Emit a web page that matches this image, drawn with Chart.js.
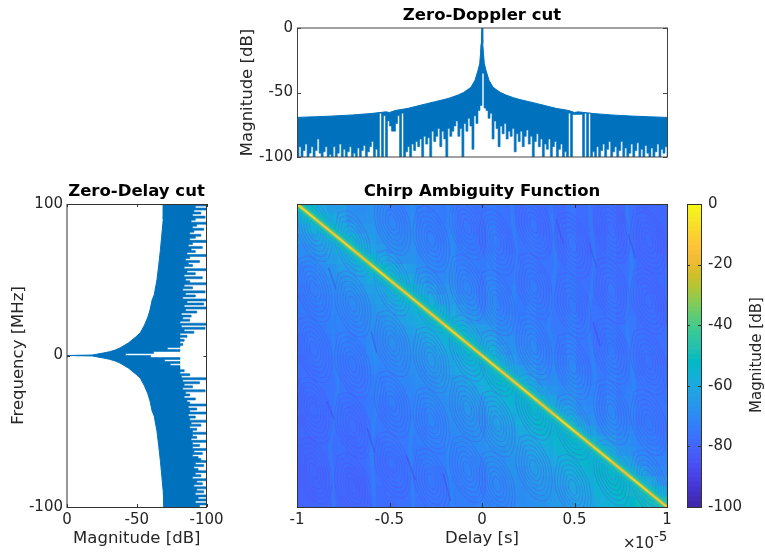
<!DOCTYPE html>
<html>
<head>
<meta charset="utf-8">
<title>Chirp Ambiguity Function</title>
<script src="https://cdn.jsdelivr.net/npm/chart.js@4"></script>
<style>
  html, body { margin: 0; background: #fff; }
  canvas { position: absolute; }
</style>
</head>
<body>
<canvas id="dopplerCut" style="left:232px;top:4px" width="500" height="166"></canvas>
<canvas id="delayCut" style="left:0;top:180px" width="273" height="374"></canvas>
<canvas id="heat" style="left:232px;top:180px" width="500" height="374"></canvas>
<canvas id="bar" style="left:687px;top:180px" width="78" height="374"></canvas>
<script>
// Zero-Doppler cut: upper edge (delay in 1e-5 s, dB)
const dopplerTopX = [-1,-0.9,-0.8,-0.7,-0.6,-0.52,-0.5,-0.47,-0.4,-0.35,-0.3,-0.25,-0.2,-0.17,-0.13,-0.1,-0.08,-0.06,-0.038,-0.022,-0.0125,-0.008,-0.005,-0.003,0,
  0.003,0.005,0.008,0.0125,0.022,0.038,0.06,0.08,0.1,0.13,0.17,0.2,0.25,0.3,0.35,0.4,0.47,0.5,0.52,0.6,0.7,0.8,0.9,1];
const dopplerTop = [-69.3,-68.8,-68.2,-67.4,-66.3,-65,-65.5,-64,-62.3,-60.5,-58.7,-57,-55.3,-54,-52,-50,-48,-46,-40.6,-33,-27.6,-20,-12,-5,0,
  -5,-12,-20,-27.6,-33,-40.6,-46,-48,-50,-52,-54,-55.3,-57,-58.7,-60.5,-62.3,-64,-65.5,-65,-66.3,-67.4,-68.2,-68.8,-69.3];
// lower edge, one value every 2 px of the axis
const dopplerLow = [
  -100,-92,-100,-95,-90,-100,-97,-92,-100,-95,
  -86,-97,-100,-96,-92,-100,-98,-100,-92,-100,
  -97,-90,-100,-94,-100,-96,-92,-100,-97,-100,
  -93,-100,-95,-91,-100,-96,-92,-88,-100,-94,
  -100,-66,-100,-68,-100,-72,-76,-80,-80,-74,
  -68,-100,-66,-100,-96,-92,-100,-90,-95,-88,
  -92,-86,-100,-84,-90,-85,-100,-80,-88,-84,
  -78,-92,-80,-86,-100,-78,-84,-80,-76,-72,
  -84,-78,-100,-74,-80,-70,-76,-94,-68,-74,
  -64,-60,-35,-62,-64,-70,-66,-86,-72,-78,
  -92,-76,-82,-74,-86,-80,-84,-78,-96,-82,
  -88,-80,-92,-84,-79,-90,-84,-100,-88,-82,
  -92,-86,-100,-90,-94,-86,-100,-92,-88,-100,
  -94,-90,-100,-96,-100,-66,-100,-67,-67,-67,
  -67,-67,-100,-66,-100,-66,-100,-96,-100,-92,
  -100,-95,-90,-100,-94,-88,-100,-96,-92,-100,
  -95,-88,-100,-93,-100,-97,-90,-100,-95,-89,
  -100,-94,-100,-91,-97,-100,-93,-100,-96,-90,
  -100,-94,-97,-92,-100];

// Zero-Delay cut: frequency in MHz, magnitude in dB
const delayEdgeFreq = [100,90,80,70,60,50,40,36.6,30,25.4,20,14.9,12,8.3,5,3.6,2.5,1.65,0.8,0.3,0.1,0,
  -0.1,-0.3,-0.8,-1.65,-2.5,-3.6,-5,-8.3,-12,-14.9,-20,-25.4,-30,-36.6,-40,-50,-60,-70,-80,-90,-100];
const delayEdge = [-69.5,-69,-68,-67,-65.8,-64.5,-62.5,-61,-59.5,-58,-55.5,-52.5,-49,-44,-38,-34.5,-30.5,-26,-21,-18,-6,0,
  -6,-18,-21,-26,-30.5,-34.5,-38,-44,-49,-52.5,-55.5,-58,-59.5,-61,-62.5,-64.5,-65.8,-67,-68,-69,-69.5];
const delayLow = [
  -94,-100,-92,-100,-91,-96,-90,-99,-92,-89,-100,-93,-90,-98,-91,-88,-96,-92,-88,-100,
  -90,-87,-97,-89,-92,-86,-100,-88,-85,-95,-87,-90,-84,-100,-86,-92,-84,-97,-85,-88,
  -100,-84,-90,-83,-99,-85,-92,-83,-100,-86,-98,-84,-100,-85,-93,-82,-89,-83,-88,-81,
  -100,-82,-99,-84,-91,-81,-86,-81,-84,-81,-83,-81,-72,-81,-62,-42,
  -60,-81,-70,-81,-74,-81,-81,-84,-81,-88,-82,-100,-83,-95,-84,-90,-83,-99,-85,-88,
  -84,-92,-86,-88,-100,-87,-93,-88,-100,-87,-92,-88,-100,-89,-96,-88,-93,-90,-100,-90,
  -93,-89,-100,-90,-95,-90,-100,-91,-97,-90,-94,-96,-100,-92,-98,-91,-94,-100,-92,-96,
  -90,-100,-93,-97,-91,-100,-93,-98,-92,-100,-94,-100,-92,-100,-95];

// Ambiguity surface in dB, 37 columns by 30 rows, top row first
const heatRows = [
  [-50,-50,-58,-62,-62,-66,-67,-66,-67,-70,-70,-69,-71,-72,-72,-71,-73,-73,-74,-72,-74,-75,-75,-74,-75,-76,-76,-74,-76,-76,-76,-75,-77,-75,-77,-77,-77],
  [-54,-52,-50,-57,-60,-65,-66,-65,-67,-69,-70,-68,-71,-71,-72,-70,-73,-73,-73,-72,-74,-74,-75,-74,-75,-75,-76,-74,-76,-76,-76,-75,-77,-75,-76,-77,-77],
  [-60,-56,-54,-50,-56,-61,-64,-64,-66,-68,-69,-67,-70,-71,-71,-70,-72,-73,-73,-71,-74,-74,-74,-73,-75,-75,-75,-74,-76,-76,-76,-75,-76,-75,-76,-76,-77],
  [-63,-62,-60,-56,-52,-54,-60,-62,-65,-67,-68,-67,-69,-70,-71,-69,-72,-72,-73,-71,-73,-74,-74,-73,-74,-75,-75,-73,-75,-76,-76,-74,-76,-75,-76,-76,-77],
  [-67,-65,-62,-60,-56,-52,-54,-60,-63,-66,-67,-66,-69,-70,-70,-69,-71,-72,-73,-71,-73,-74,-74,-73,-74,-75,-75,-73,-75,-76,-76,-74,-76,-75,-76,-76,-77],
  [-68,-67,-65,-62,-60,-57,-52,-52,-58,-62,-65,-65,-68,-69,-70,-68,-71,-71,-72,-70,-73,-73,-74,-73,-74,-74,-75,-73,-75,-75,-76,-74,-76,-74,-76,-76,-76],
  [-70,-69,-67,-65,-62,-61,-58,-53,-50,-56,-60,-62,-66,-68,-69,-67,-70,-71,-72,-70,-72,-73,-73,-72,-74,-74,-75,-73,-75,-75,-75,-74,-75,-74,-76,-76,-76],
  [-70,-70,-68,-66,-65,-63,-61,-58,-54,-51,-54,-58,-63,-66,-68,-66,-69,-70,-71,-69,-72,-73,-73,-72,-73,-74,-74,-72,-75,-75,-75,-74,-75,-74,-76,-76,-76],
  [-71,-71,-69,-68,-66,-65,-63,-61,-58,-55,-51,-52,-58,-62,-65,-64,-68,-69,-70,-68,-71,-72,-73,-71,-73,-74,-74,-72,-74,-75,-75,-73,-75,-74,-75,-76,-76],
  [-72,-71,-70,-69,-67,-67,-65,-63,-61,-58,-55,-52,-51,-57,-61,-62,-66,-68,-69,-67,-71,-71,-72,-71,-73,-73,-74,-72,-74,-75,-75,-73,-75,-74,-75,-75,-76],
  [-72,-72,-71,-70,-68,-68,-66,-65,-63,-61,-58,-55,-52,-50,-55,-59,-63,-66,-68,-66,-70,-71,-72,-70,-72,-73,-73,-72,-74,-74,-75,-73,-75,-74,-75,-75,-76],
  [-73,-72,-71,-71,-69,-69,-68,-66,-65,-63,-61,-58,-56,-53,-50,-54,-59,-63,-66,-65,-69,-70,-71,-70,-72,-73,-73,-71,-74,-74,-74,-73,-75,-73,-75,-75,-76],
  [-73,-73,-72,-71,-70,-70,-69,-67,-66,-65,-63,-61,-58,-56,-53,-50,-53,-58,-62,-63,-67,-69,-70,-69,-71,-72,-73,-71,-73,-74,-74,-72,-74,-73,-75,-75,-75],
  [-74,-73,-72,-72,-70,-71,-70,-68,-67,-66,-65,-63,-61,-58,-56,-52,-50,-53,-58,-60,-65,-67,-69,-68,-71,-71,-72,-70,-73,-73,-74,-72,-74,-73,-74,-75,-75],
  [-74,-74,-73,-72,-71,-71,-71,-68,-68,-67,-66,-64,-63,-61,-58,-55,-53,-51,-53,-56,-62,-65,-67,-67,-70,-71,-72,-70,-73,-73,-73,-72,-74,-73,-74,-74,-75],
  [-75,-74,-73,-73,-72,-72,-71,-69,-69,-68,-67,-66,-64,-63,-61,-58,-56,-53,-50,-52,-58,-62,-66,-66,-69,-70,-71,-69,-72,-73,-73,-71,-73,-72,-74,-74,-75],
  [-75,-75,-74,-73,-72,-73,-72,-70,-70,-69,-68,-67,-66,-64,-63,-60,-58,-56,-53,-51,-52,-58,-63,-64,-67,-69,-70,-68,-71,-72,-73,-71,-73,-72,-74,-74,-74],
  [-75,-75,-74,-74,-73,-73,-73,-71,-71,-70,-69,-68,-67,-66,-64,-62,-61,-58,-56,-53,-50,-52,-57,-61,-65,-67,-69,-67,-70,-71,-72,-70,-72,-72,-73,-74,-74],
  [-76,-75,-75,-74,-73,-74,-73,-71,-71,-70,-70,-69,-68,-67,-65,-64,-63,-61,-58,-55,-53,-50,-52,-57,-62,-65,-67,-66,-69,-70,-72,-70,-72,-71,-73,-73,-74],
  [-76,-76,-75,-74,-74,-74,-74,-72,-72,-71,-71,-70,-69,-67,-67,-65,-64,-62,-61,-58,-55,-53,-51,-52,-56,-61,-65,-64,-68,-69,-71,-69,-71,-71,-73,-73,-74],
  [-76,-76,-75,-75,-74,-75,-74,-72,-73,-72,-71,-70,-70,-68,-68,-66,-65,-64,-62,-60,-58,-55,-53,-51,-52,-55,-61,-62,-66,-68,-70,-68,-71,-70,-72,-73,-73],
  [-77,-76,-76,-75,-74,-75,-75,-73,-73,-72,-72,-71,-70,-69,-69,-67,-66,-65,-64,-62,-60,-57,-55,-53,-51,-50,-55,-59,-63,-66,-69,-67,-70,-70,-72,-72,-73],
  [-77,-76,-76,-75,-75,-75,-75,-73,-73,-73,-72,-71,-71,-70,-69,-68,-67,-66,-65,-63,-62,-60,-58,-55,-53,-51,-51,-54,-59,-63,-67,-66,-69,-69,-71,-72,-73],
  [-77,-77,-76,-76,-75,-76,-75,-74,-74,-73,-73,-72,-71,-70,-70,-69,-68,-67,-66,-64,-63,-62,-60,-58,-56,-53,-52,-50,-53,-57,-63,-63,-67,-68,-70,-71,-72],
  [-77,-77,-76,-76,-75,-76,-76,-74,-74,-74,-73,-72,-72,-71,-71,-69,-69,-68,-67,-65,-65,-63,-62,-60,-58,-56,-54,-52,-50,-52,-55,-60,-65,-66,-69,-70,-71],
  [-77,-77,-76,-76,-76,-76,-76,-74,-75,-74,-74,-73,-72,-71,-71,-70,-69,-69,-68,-66,-66,-65,-63,-62,-60,-58,-56,-54,-52,-50,-52,-54,-60,-63,-67,-69,-70],
  [-78,-77,-77,-76,-76,-77,-76,-75,-75,-75,-74,-73,-73,-72,-72,-70,-70,-69,-69,-67,-67,-65,-65,-63,-61,-60,-58,-56,-54,-52,-50,-50,-53,-58,-63,-66,-68],
  [-78,-77,-77,-76,-76,-77,-77,-75,-75,-75,-74,-74,-73,-72,-72,-71,-70,-70,-69,-68,-68,-66,-66,-64,-63,-62,-60,-58,-56,-54,-52,-51,-50,-50,-55,-60,-64],
  [-78,-78,-77,-77,-76,-77,-77,-75,-76,-75,-75,-74,-73,-73,-73,-71,-71,-70,-70,-68,-68,-67,-67,-65,-64,-63,-62,-60,-58,-56,-54,-52,-50,-48,-47,-50,-56],
  [-78,-78,-77,-77,-77,-77,-77,-76,-76,-76,-75,-74,-74,-73,-73,-72,-71,-71,-70,-69,-69,-68,-67,-66,-65,-64,-63,-61,-60,-58,-56,-54,-52,-50,-48,-46,-44]
];

// Bright ridge along the diagonal
const ridgeDelay = [-1,-0.9,-0.8,-0.7,-0.6,-0.5,-0.4,-0.3,-0.2,-0.1,0,0.1,0.2,0.3,0.4,0.5,0.6,0.7,0.8,0.9,1];
const ridgeFreq = [100,90,80,70,60,50,40,30,20,10,0,-10,-20,-30,-40,-50,-60,-70,-80,-90,-100];
const ridgeDb = [-10,-14,-12,-16,-11,-15,-13,-16,-12,-15,-11,-15,-12,-16,-10,-14,-12,-16,-11,-14,-9];

// Faint vertical streaks between the lobes; null breaks a streak
const lightDelay = [-0.82,-0.79,-0.81,-0.78,-0.82,-0.8,null,-0.6,-0.57,-0.6,-0.56,-0.6,-0.58,null,-0.38,-0.36,-0.39,-0.35,-0.39,-0.37,null,-0.18,-0.15,-0.18,-0.15,-0.19,-0.16,null,
  0.16,0.19,0.15,0.19,0.16,0.19,null,0.37,0.4,0.36,0.4,0.37,0.39,null,0.58,0.61,0.57,0.62,0.58,0.6,null,0.78,0.81,0.78,0.82,0.79,0.81];
const lightFreq = [100,60,20,-20,-60,-100,null,100,60,20,-20,-60,-100,null,100,60,20,-20,-60,-100,null,100,60,20,-20,-60,-100,null,
  100,60,20,-20,-60,-100,null,100,60,20,-20,-60,-100,null,100,60,20,-20,-60,-100,null,100,60,20,-20,-60,-100];
const darkDelay = [-0.84,-0.8,null,-0.62,-0.58,null,-0.41,-0.36,null,-0.21,-0.17,null,0.58,0.62,null,0.79,0.83,null,0.6,0.64,null,0.4,0.44,null,-0.83,-0.79,null,-0.6,-0.57];
const darkFreq = [-30,-42,null,-48,-64,null,-66,-82,null,-78,-96,null,74,58,null,80,64,null,22,6,null,90,74,null,58,44,null,16,2];

const lobeDelay = [-0.91,-0.7,-0.485,-0.275,-0.08,0.08,0.28,0.49,0.7,0.9];
const lobeFreq = [80,40,0,-40,-80];
const lobeShift = [4,-6,8,-3,5,-5,6,-7,3,-4];
const lobeRings = [1.12,0.95,0.78,0.61,0.44,0.27];
const lobeOutlineDelay = [-0.07,-0.02,0.04,0.085,0.07,0.02,-0.04,-0.085,-0.07];
const lobeOutlineFreq = [18,19,12,-2,-18,-19,-12,2,18];

// Axis ticks
const magnitudeTicks = [0, -50, -100];
const frequencyTicks = [100, 0, -100];
const delayTicks = [-1, -0.5, 0, 0.5, 1];
const colorbarTicks = [0, -20, -40, -60, -80, -100];

const blue = '#0072BD';
const inkColor = '#262626';
const surfaceOffset = -2.5; // the cells read a touch too cyan against the colorbar

// parula, every third entry of the 64 level map
const parula = [[62,38,168],[67,50,203],[71,65,229],[72,82,244],[69,99,253],[56,117,254],[46,135,247],[39,150,235],
  [32,165,227],[18,177,214],[2,186,195],[36,193,174],[55,200,151],[87,204,122],[129,204,89],[171,199,57],
  [209,191,39],[240,186,54],[254,195,56],[250,214,45],[245,233,36],[249,251,21]];

function parulaColor(db, alpha) {
  const t = Math.min(1, Math.max(0, (db + 100) / 100)) * (parula.length - 1);
  const i = Math.min(parula.length - 2, Math.floor(t));
  const c = parula[i].map((v, k) => Math.round(v + (parula[i + 1][k] - v) * (t - i)));
  return `rgba(${c[0]},${c[1]},${c[2]},${alpha === undefined ? 1 : alpha})`;
}

function zipPoints(xs, ys) {
  return xs.map((x, i) => ({ x: x, y: ys[i] }));
}

// MATLAB style box: frame plus inward ticks on both sides
const boxFrame = {
  id: 'boxFrame',
  afterDatasetsDraw(chart, args, opts) {
    const { ctx, chartArea: a } = chart;
    const ox = opts.ox || 0, oy = opts.oy || 0, len = opts.len || 4;
    ctx.save();
    ctx.strokeStyle = opts.color || inkColor;
    ctx.lineWidth = 1;
    ctx.strokeRect(a.left + ox, a.top + oy, a.width, a.height);
    (opts.axes || []).forEach(id => {
      const s = chart.scales[id];
      s.ticks.forEach(t => {
        const p = Math.round(s.getPixelForValue(t.value)) + 0.5;
        ctx.beginPath();
        if (s.isHorizontal()) {
          ctx.moveTo(p, a.top); ctx.lineTo(p, a.top + len);
          ctx.moveTo(p, a.bottom); ctx.lineTo(p, a.bottom - len);
        } else {
          ctx.moveTo(a.left, p); ctx.lineTo(a.left + len, p);
          ctx.moveTo(a.right, p); ctx.lineTo(a.right - len, p);
        }
        ctx.stroke();
      });
    });
    ctx.restore();
  }
};

function chartTitle(text) {
  return {
    display: true, text: text, color: '#000',
    font: { size: 16.5, weight: 'bold' },
    padding: { top: 2, bottom: 2.2 }
  };
}

function linearAxis(min, max, tickList, extra, pad) {
  return Object.assign({
    type: 'linear', min: min, max: max,
    afterBuildTicks(s) { s.ticks = tickList.map(v => ({ value: v })); },
    grid: { display: false, drawTicks: false },
    border: { display: false },
    ticks: { color: inkColor, font: { size: 15 }, padding: pad || 4, autoSkip: false, maxRotation: 0, callback: v => String(v) }
  }, extra);
}

// empty axis that only holds room so the title centres on the plot
function spacerAxis(width) {
  return {
    position: 'right', ticks: { display: false }, grid: { display: false, drawTicks: false }, border: { display: false },
    afterFit(s) { s.width = width; }
  };
}

function axisTitle(text, pad) {
  return { display: true, text: text, color: inkColor, font: { size: 16.5 }, padding: pad };
}

const sharedOptions = {
  responsive: false,
  animation: false,
  events: [],
  plugins: { legend: { display: false }, tooltip: { enabled: false } }
};

Chart.defaults.font.family = "'DejaVu Sans'";

// top panel
new Chart(document.getElementById('dopplerCut'), {
  type: 'scatter',
  plugins: [boxFrame],
  data: {
    datasets: [
      { data: zipPoints(dopplerTopX, dopplerTop), showLine: true, pointRadius: 0, borderColor: blue, borderWidth: 1, backgroundColor: blue, fill: '+1' },
      { data: dopplerLow.map((v, i) => ({ x: -1 + i * 2 / (dopplerLow.length - 1), y: v })), showLine: true, stepped: true, pointRadius: 0, borderColor: blue, borderWidth: 0.6, fill: false }
    ]
  },
  options: Object.assign({}, sharedOptions, {
    plugins: Object.assign({}, sharedOptions.plugins, {
      title: chartTitle('Zero-Doppler cut'),
      boxFrame: { color: '#444', ox: 0.5, axes: ['y'], len: 4 }
    }),
    scales: {
      x: { type: 'linear', min: -1, max: 1, ticks: { display: false }, grid: { display: false, drawTicks: false }, border: { display: false },
        afterFit(s) { s.height = 13; } },
      y: linearAxis(-100, 0, magnitudeTicks, { title: axisTitle('Magnitude [dB]', { top: 6 }), afterFit(s) { s.width = 65; } }),
      y2: spacerAxis(65)
    }
  })
});

// left panel
new Chart(document.getElementById('delayCut'), {
  type: 'line',
  plugins: [boxFrame],
  data: {
    datasets: [
      { data: zipPoints(delayEdge, delayEdgeFreq), pointRadius: 0, borderColor: blue, borderWidth: 1, backgroundColor: blue, fill: '+1' },
      { data: delayLow.map((v, i) => ({ x: v, y: 100 - i * 200 / (delayLow.length - 1) })), stepped: true, pointRadius: 0, borderColor: blue, borderWidth: 0.6, fill: false }
    ]
  },
  options: Object.assign({}, sharedOptions, {
    indexAxis: 'y',
    plugins: Object.assign({}, sharedOptions.plugins, {
      title: chartTitle('Zero-Delay cut'),
      boxFrame: { color: '#333', axes: ['x', 'y'], len: 3, oy: 0.5 }
    }),
    scales: {
      x: linearAxis(-100, 0, magnitudeTicks, { reverse: true, title: axisTitle('Magnitude [dB]', { bottom: 5 }), afterFit(s) { s.height = 47; } }),
      y: linearAxis(-100, 100, frequencyTicks, { title: axisTitle('Frequency [MHz]', { top: 8.5 }), afterFit(s) { s.width = 67; } }),
      y2: spacerAxis(66.5)
    }
  })
});

// heat map
const cellPoints = [];
heatRows.forEach((row, r) => row.forEach((v, c) => {
  cellPoints.push({ x: -1 + (c + 0.5) * 2 / row.length, y: 100 - (r + 0.5) * 200 / heatRows.length, v: v });
}));

const lobePoints = [];
lobeDelay.forEach((d, c) => lobeFreq.forEach(f => lobeRings.forEach(k => {
  lobeOutlineDelay.forEach((o, i) => {
    lobePoints.push({ x: d + o * k, y: f + lobeShift[c] + lobeOutlineFreq[i] * k });
  });
  lobePoints.push({ x: null, y: null });
})));

const ridgePoints = zipPoints(ridgeDelay, ridgeFreq);
function ridgeBand(width, db, alpha) {
  return { data: ridgePoints, showLine: true, pointRadius: 0, borderWidth: width, borderColor: parulaColor(db, alpha), clip: 0, borderCapStyle: 'butt' };
}

new Chart(document.getElementById('heat'), {
  type: 'scatter',
  plugins: [boxFrame, {
    id: 'exponent',
    afterDraw(chart) {
      const ctx = chart.ctx, a = chart.chartArea;
      ctx.save();
      ctx.fillStyle = inkColor;
      ctx.textBaseline = 'alphabetic';
      ctx.font = "15px 'DejaVu Sans'";
      ctx.fillText('×', a.left + 326, a.bottom + 41);
      ctx.fillText('10', a.left + 338, a.bottom + 41);
      ctx.font = "13.5px 'DejaVu Sans'";
      ctx.fillText('-5', a.left + 357, a.bottom + 34);
      ctx.restore();
    }
  }],
  data: {
    // first dataset is painted last
    datasets: [
      {
        data: ridgePoints, showLine: true, pointRadius: 0, borderWidth: 1.8, clip: 0, borderColor: '#e8c030',
        segment: { borderColor: c => parulaColor(ridgeDb[c.p0DataIndex]) }
      },
      ridgeBand(3.5, -30, 0.75),
      ridgeBand(7, -42, 0.6),
      ridgeBand(14, -50, 0.45),
      ridgeBand(28, -58, 0.35),
      { data: zipPoints(darkDelay, darkFreq), showLine: true, pointRadius: 0, borderWidth: 1.5, borderColor: parulaColor(-90, 0.45), spanGaps: false },
      { data: lobePoints, showLine: true, pointRadius: 0, borderWidth: 1, tension: 0.4, borderColor: 'rgba(90,70,240,0.33)', spanGaps: false },
      { data: zipPoints(lightDelay, lightFreq), showLine: true, pointRadius: 0, borderWidth: 4, borderColor: parulaColor(-66, 0.3), spanGaps: false },
      {
        data: cellPoints, pointStyle: 'rect', pointRadius: 8, borderWidth: 0,
        pointBackgroundColor: cellPoints.map(p => parulaColor(p.v + surfaceOffset)), pointBorderWidth: 0
      }
    ]
  },
  options: Object.assign({}, sharedOptions, {
    layout: { padding: { left: 65, right: 65 } },
    plugins: Object.assign({}, sharedOptions.plugins, {
      title: chartTitle('Chirp Ambiguity Function'),
      boxFrame: { color: '#333', ox: 0.5, oy: 0.5, axes: ['x'], len: 4 }
    }),
    scales: {
      x: linearAxis(-1, 1, delayTicks, { title: axisTitle('Delay [s]', { bottom: 5 }), afterFit(s) { s.height = 47; } }),
      y: { type: 'linear', min: -100, max: 100, display: false }
    }
  })
});

// colorbar
const colorLevels = [];
for (let v = -100; v < 0; v += 100 / 64) colorLevels.push(v);

new Chart(document.getElementById('bar'), {
  type: 'bar',
  plugins: [boxFrame, {
    id: 'barLabel',
    afterDraw(chart) {
      const ctx = chart.ctx;
      ctx.save();
      ctx.translate(70, 175);
      ctx.rotate(-Math.PI / 2);
      ctx.fillStyle = inkColor;
      ctx.font = "15px 'DejaVu Sans'";
      ctx.textAlign = 'center';
      ctx.textBaseline = 'middle';
      ctx.fillText('Magnitude [dB]', 0, 0);
      ctx.restore();
    }
  }],
  data: {
    labels: ['level'],
    datasets: colorLevels.map(v => ({
      data: [[v, v + 100 / 64 + 0.3]],
      backgroundColor: parulaColor(v + 50 / 64),
      barPercentage: 1, categoryPercentage: 1, grouped: false
    }))
  },
  options: Object.assign({}, sharedOptions, {
    layout: { padding: { top: 24, bottom: 47 } },
    plugins: Object.assign({}, sharedOptions.plugins, {
      boxFrame: { color: '#333', ox: 0.5, oy: 0.5, axes: ['y'], len: 3 }
    }),
    scales: {
      x: { display: false },
      y: linearAxis(-100, 0, colorbarTicks, { position: 'right', afterFit(s) { s.width = 64; } }, 7)
    }
  })
});
</script>
</body>
</html>
